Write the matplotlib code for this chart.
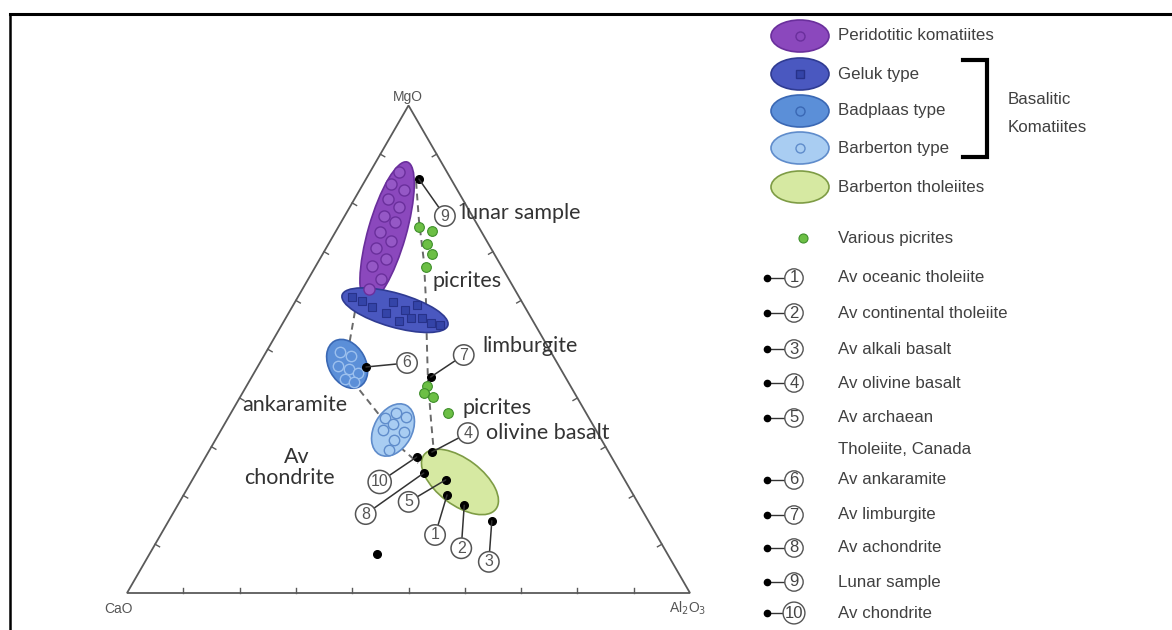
import numpy as np
import matplotlib
matplotlib.use('Agg')
import matplotlib.pyplot as plt
from matplotlib.patches import Ellipse, Polygon
from matplotlib.lines import Line2D

W, H, DPI = 1172, 630, 100

# ---------------- data: compositions (CaO, MgO, Al2O3) ----------------
ref_labels = ['1', '2', '3', '4', '5', '6', '7', '8', '9', '10']
ref_names = ['Av oceanic tholeiite', 'Av continental tholeiite', 'Av alkali basalt',
             'Av olivine basalt', 'Av archaean\nTholeiite, Canada', 'Av ankaramite',
             'Av limburgite', 'Av achondrite', 'Lunar sample', 'Av chondrite']
ref_cao = [33.1, 31.1, 27.8, 31.4, 31.8, 34.4, 23.9, 35.0, 5.7, 34.6]
ref_mgo = [20.1, 18.0, 14.8, 28.9, 23.2, 46.4, 44.3, 24.6, 84.9, 27.9]
ref_al = [46.8, 50.9, 57.4, 39.7, 45.0, 19.3, 31.8, 40.4, 9.4, 37.5]

extra_cao = [51.6]
extra_mgo = [8.0]
extra_al = [40.4]

picr_cao = [10.6, 8.7, 10.9, 11.1, 13.5, 25.5, 26.7, 25.6, 24.5]
picr_mgo = [75.1, 74.2, 71.6, 69.5, 66.9, 42.5, 41.0, 40.2, 36.9]
picr_al = [14.3, 17.1, 17.5, 19.4, 19.7, 32.1, 32.2, 34.2, 38.6]

perid_cao = [8.5, 11.2, 9.5, 13.2, 12.1, 15.7, 14.4, 18.0, 17.0, 20.4, 19.8, 23.0, 22.7, 25.8]
perid_mgo = [86.3, 83.9, 82.7, 80.8, 79.2, 77.3, 76.1, 74.0, 72.2, 70.8, 68.5, 67.1, 64.4, 62.3]
perid_al = [5.1, 5.0, 7.9, 6.0, 8.7, 7.0, 9.5, 8.0, 10.8, 8.8, 11.8, 10.0, 12.9, 11.8]

geluk_cao = [29.7, 28.3, 27.2, 25.3, 22.9, 23.8, 21.6, 21.4, 19.0, 19.4, 18.3, 16.9]
geluk_mgo = [60.7, 59.9, 58.7, 57.4, 59.7, 55.8, 58.0, 56.4, 59.1, 56.4, 55.4, 55.0]
geluk_al = [9.6, 11.8, 14.2, 17.3, 17.4, 20.4, 20.4, 22.2, 22.0, 24.2, 26.3, 28.1]

badp_cao = [37.5, 35.9, 39.3, 37.6, 36.4, 39.3, 38.1]
badp_mgo = [49.4, 48.6, 46.6, 45.9, 45.1, 43.9, 43.3]
badp_al = [13.1, 15.5, 14.2, 16.5, 18.5, 16.8, 18.7]

barb_cao = [36.2, 33.8, 32.4, 35.4, 37.8, 34.3, 36.9, 38.8]
barb_mgo = [35.9, 36.9, 36.1, 34.7, 33.4, 33.0, 31.4, 29.3]
barb_al = [27.9, 29.3, 31.5, 29.9, 28.8, 32.7, 31.7, 31.9]

# field centres (CaO, MgO, Al2O3)
field_names = ['Peridotitic komatiites', 'Geluk type', 'Badplaas type',
               'Barberton type', 'Barberton tholeiites']
field_cao = [16.8, 23.4, 37.4, 36.0, 29.5]
field_mgo = [74.0, 58.0, 47.0, 33.4, 22.8]
field_al = [9.2, 18.6, 15.6, 30.5, 47.8]

# trend lines (dashed)
trendA_cao = [29.1, 35.1, 38.2, 37.0, 36.6, 35.0]
trendA_mgo = [60.1, 50.9, 43.3, 36.9, 30.1, 26.7]
trendA_al = [10.8, 14.0, 18.5, 26.1, 33.2, 38.4]
trendB_cao = [6.5, 9.9, 13.3, 16.9, 20.8, 24.7, 28.3, 31.3, 32.3]
trendB_mgo = [84.3, 76.5, 67.9, 60.1, 51.9, 43.7, 35.5, 28.3, 23.6]
trendB_al = [9.2, 13.6, 18.8, 23.1, 27.3, 31.6, 36.3, 40.4, 44.2]

# ---------------- styles ----------------
field_fc = ['#8b48bd', '#4a58c0', '#5b8fd8', '#a9cdf2', '#d6e9a2']
field_ec = ['#6a2f9c', '#2f3b92', '#3a68b4', '#5f8ccb', '#7e9c45']
field_w = [146, 110, 52, 56, 90]      # px, long axis
field_h = [38, 34, 37, 38, 46]        # px, short axis
field_ang = [74, -16, -61, 61, -37]   # deg

S = 563.0           # px per unit side
X0, Y0 = 127.0, 593.0


def tern(cao, mgo, al):
    cao, mgo, al = (np.asarray(v, float) for v in (cao, mgo, al))
    s = cao + mgo + al
    m, a = mgo / s, al / s
    return a + m / 2.0, m * np.sqrt(3) / 2.0


def P(px, py):
    return ((px - X0) / S, (Y0 - py) / S)


fig = plt.figure(figsize=(W / DPI, H / DPI), dpi=DPI)
ax = fig.add_axes([0, 0, 1, 1])
ax.set_xlim(-X0 / S, (W - X0) / S)
ax.set_ylim((Y0 - H) / S, Y0 / S)
ax.axis('off')

# triangle
vx, vy = tern([100, 0, 0], [0, 100, 0], [0, 0, 100])
ax.add_patch(Polygon(np.c_[vx, vy], closed=True, fill=False, ec='#5a5a5a', lw=1.3, zorder=1))
verts = np.c_[vx, vy]
cen = verts.mean(axis=0)
for i in range(3):
    p0, p1 = verts[i], verts[(i + 1) % 3]
    d = p1 - p0
    nrm = np.array([-d[1], d[0]]) / np.hypot(*d)
    if np.dot(cen - p0, nrm) < 0:
        nrm = -nrm
    for f in np.arange(1, 10) / 10.0:
        q = p0 + f * d
        ax.plot([q[0], q[0] + nrm[0] * 0.009], [q[1], q[1] + nrm[1] * 0.009],
                color='#5a5a5a', lw=1.0, zorder=1)

lab_font = dict(family=['Liberation Sans', 'DejaVu Sans'], color='#555555', fontsize=10)
ax.text(*P(408, 97), 'MgO', ha='center', va='center', **lab_font)
ax.text(*P(119, 609), 'CaO', ha='center', va='center', **lab_font)
ax.text(*P(688, 608), r'Al$_2$O$_3$', ha='center', va='center', **lab_font)

# trend lines
for tc, tm, ta in [(trendA_cao, trendA_mgo, trendA_al), (trendB_cao, trendB_mgo, trendB_al)]:
    x, y = tern(tc, tm, ta)
    ax.plot(x, y, color='#6a6a6a', lw=1.4, ls=(0, (3.5, 2.5)), zorder=2)

# fields
fx, fy = tern(field_cao, field_mgo, field_al)
for i in range(len(field_names)):
    ax.add_patch(Ellipse((fx[i], fy[i]), field_w[i] / S, field_h[i] / S, angle=field_ang[i],
                         fc=field_fc[i], ec=field_ec[i], lw=1.2, zorder=3))

x, y = tern(perid_cao, perid_mgo, perid_al)
ax.plot(x, y, 'o', ms=8, mfc='#9558c6', mec='#6a2f9c', mew=1.0, ls='none', zorder=4)
x, y = tern(geluk_cao, geluk_mgo, geluk_al)
ax.plot(x, y, 's', ms=6, mfc='#3444a8', mec='#27328a', mew=0.8, ls='none', zorder=4)
x, y = tern(badp_cao, badp_mgo, badp_al)
ax.plot(x, y, 'o', ms=7.5, mfc='#5b8fd8', mec='#9cc0ee', mew=1.0, ls='none', zorder=4)
x, y = tern(barb_cao, barb_mgo, barb_al)
ax.plot(x, y, 'o', ms=7.5, mfc='#a9cdf2', mec='#5f8ccb', mew=1.0, ls='none', zorder=4)

# picrites
x, y = tern(picr_cao, picr_mgo, picr_al)
ax.plot(x, y, 'o', ms=7, mfc='#6cbf45', mec='#3f8f2b', mew=0.8, ls='none', zorder=5)

# reference points
rx, ry = tern(ref_cao, ref_mgo, ref_al)
ex, ey = tern(extra_cao, extra_mgo, extra_al)
ax.plot(rx, ry, 'o', ms=5.5, color='black', ls='none', zorder=6)
ax.plot(ex, ey, 'o', ms=5.5, color='black', ls='none', zorder=6)

lab_off = [(-12, -40), (-3, -43), (-3, -41), (36, 19), (-37, -22), (41, 4),
           (33, 22), (-58, -41), (26, -37), (-37, -25)]
circ_kw = dict(fontsize=11.5, color='#555555', family=['Liberation Sans', 'DejaVu Sans'],
               ha='center', va='center')
for i in range(len(ref_labels)):
    ax.annotate(ref_labels[i], xy=(rx[i], ry[i]), xytext=lab_off[i], textcoords='offset pixels',
                bbox=dict(boxstyle='circle,pad=0.17', fc='white', ec='#555555', lw=1.1),
                arrowprops=dict(arrowstyle='-', color='#333333', lw=1.1, shrinkA=0, shrinkB=0),
                zorder=7, **circ_kw)

# annotations in plot
ann_font = dict(family=['Lato', 'DejaVu Sans'], color='#333333', fontsize=15.5)
for txt, px, py, ha in [('lunar sample', 461, 213, 'left'), ('picrites', 432, 281, 'left'),
                        ('limburgite', 482, 346, 'left'), ('ankaramite', 242, 405, 'left'),
                        ('picrites', 463, 408, 'left'), ('olivine basalt', 486, 433, 'left'),
                        ('Av', 297, 457, 'center'), ('chondrite', 289, 478, 'center')]:
    ax.text(*P(px, py), txt, ha=ha, va='center', zorder=8, **ann_font)

# ---------------- legend ----------------
leg_font = dict(family=['Liberation Sans', 'DejaVu Sans'], color='#404040', fontsize=12.2)
leg_y = [36, 74, 111, 148, 187]
leg_mk = [('o', 'none', '#6a2f9c'), ('s', '#3444a8', '#27328a'), ('o', 'none', '#3a68b4'),
          ('o', 'none', '#5f8ccb'), (None, None, None)]
for i in range(5):
    cx, cy = P(800, leg_y[i])
    ax.add_patch(Ellipse((cx, cy), 58 / S, 32 / S, fc=field_fc[i], ec=field_ec[i], lw=1.2))
    mk, mfc, mec = leg_mk[i]
    if mk:
        ax.plot([cx], [cy], mk, ms=5.5 if mk == 's' else 6.5, mfc=mfc, mec=mec, mew=1.0)
    ax.text(*P(838, leg_y[i]), field_names[i], ha='left', va='center', **leg_font)

# bracket
bx = [P(963, 60), P(987, 60), P(987, 157), P(963, 157)]
ax.plot([p[0] for p in bx], [p[1] for p in bx], color='black', lw=3, solid_joinstyle='miter')
ax.text(*P(1008, 100), 'Basalitic', ha='left', va='center', **leg_font)
ax.text(*P(1008, 127), 'Komatiites', ha='left', va='center', **leg_font)

cx, cy = P(803, 238)
ax.plot([cx], [cy], 'o', ms=6.5, mfc='#6cbf45', mec='#3f8f2b', mew=0.8)
ax.text(*P(838, 238), 'Various picrites', ha='left', va='center', **leg_font)

row_y = [278, 313, 349, 383, 418, 480, 515, 548, 582, 613]
for i in range(10):
    y0 = row_y[i]
    d0 = P(767, y0)
    d1 = P(786, y0)
    ax.plot([d0[0], d1[0]], [d0[1], d1[1]], color='#333333', lw=1.0)
    ax.plot([d0[0]], [d0[1]], 'o', ms=4.5, color='black')
    ax.text(*P(794, y0), ref_labels[i], ha='center', va='center', fontsize=12,
            color='#444444', family=['Liberation Sans', 'DejaVu Sans'],
            bbox=dict(boxstyle='circle,pad=0.1', fc='white', ec='#555555', lw=1.0))
    for j, line in enumerate(ref_names[i].split('\n')):
        ax.text(*P(838, y0 + 31 * j), line, ha='left', va='center', **leg_font)

# frame lines (top and left)
fig.add_artist(Line2D([10 / W, 1], [1 - 14 / H, 1 - 14 / H], transform=fig.transFigure,
                      color='black', lw=2.2))
fig.add_artist(Line2D([10 / W, 10 / W], [0, 1 - 14 / H], transform=fig.transFigure,
                      color='black', lw=1.8))

fig.savefig('out.png', dpi=DPI)
